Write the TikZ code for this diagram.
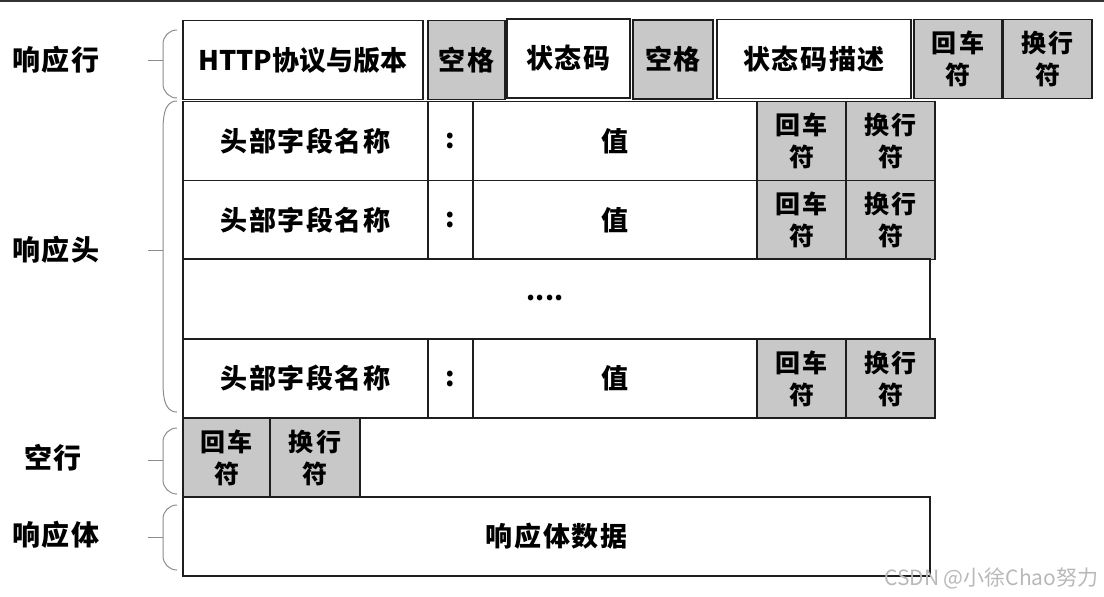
\documentclass[tikz,border=0pt]{standalone}
\usepackage{fontspec}
\setmainfont{Noto Sans CJK SC}
\newfontfamily\cjksp{Noto Sans CJK SC}[LetterSpace=6]
\newfontfamily\cjkcr{Noto Sans CJK SC}[LetterSpace=10]
\newfontfamily\wmfont{Noto Sans CJK SC}
\definecolor{cellgray}{RGB}{200,200,200}
\definecolor{linec}{RGB}{30,30,30}
\definecolor{bracec}{RGB}{140,140,140}
\newcommand\mybrace[4]{%
  \draw[bracepath] (177,#1) to[out=180,in=90] (163,#1+#4) -- (163,#2-#4) to[out=-90,in=180] (177,#2);
  \draw[bracepath] (148,#3) -- (163,#3);}
\begin{document}
\begin{tikzpicture}[x=1pt,y=-1pt,
  box/.style={draw=linec, line width=1.8pt, inner sep=0pt, align=center,
    font=\cjksp\bfseries\fontsize{27}{30}\selectfont},
  wbox/.style={box, fill=white},
  gbox/.style={box, fill=cellgray},
  crbox/.style={gbox, font=\cjkcr\bfseries\fontsize{25}{32}\selectfont},
  lab/.style={font=\cjksp\bfseries\fontsize{28}{30}\selectfont},
  bracepath/.style={draw=bracec, line width=1pt}]
\useasboundingbox (0,0) rectangle (1104,597);
\draw[line width=1.5pt, draw=black!80] (0,0.75) -- (1104,0.75);

% response line
\node[wbox, minimum width=240, minimum height=79, font=\rmfamily\bfseries\fontsize{27}{30}\selectfont] (http) at (303,60) {HTTP协议与版本};
\node[gbox, minimum width=77, minimum height=79] (sp1) at (466.5,60) {空格};
\node[wbox, minimum width=123, minimum height=79] (code) at (568.5,58.5) {状态码};
\node[gbox, minimum width=80, minimum height=79] (sp2) at (673,59.5) {空格};
\node[wbox, minimum width=194, minimum height=79] (desc) at (814,59) {状态码描述};
\node[crbox, minimum width=88, minimum height=79] (cr0) at (958,59) {回车\\符};
\node[crbox, minimum width=89, minimum height=79] (lf0) at (1047.5,59) {换行\\符};

% header rows
\foreach \r/\yc in {1/141, 2/220, 3/378.5}{
  \node[wbox, minimum width=245, minimum height=79] (name\r) at (305.5,\yc) {头部字段名称};
  \node[wbox, minimum width=45, minimum height=79] (colon\r) at (450.5,\yc) {:};
  \node[wbox, minimum width=284, minimum height=79] (val\r) at (615,\yc) {值};
  \node[crbox, minimum width=89, minimum height=79] (cr\r) at (801.5,\yc) {回车\\符};
  \node[crbox, minimum width=89, minimum height=79] (lf\r) at (890.5,\yc) {换行\\符};
}
\node[wbox, minimum width=747, minimum height=80] (dots) at (556.5,299) {};
\node[font=\rmfamily\bfseries\fontsize{26}{30}\selectfont] (dotstext) at (545,298) {....};

% empty line
\node[crbox, minimum width=87, minimum height=79] (crE) at (226.5,457.5) {回车\\符};
\node[crbox, minimum width=90, minimum height=79] (lfE) at (315,457.5) {换行\\符};

% body
\node[wbox, minimum width=747, minimum height=79] (body) at (556.5,536.5) {响应体数据};

% labels
\node[lab] (lline) at (56,60) {响应行};
\node[lab] (lhead) at (56,250) {响应头};
\node[lab] (lempty) at (53,458) {空行};
\node[lab] (lbody) at (56,535) {响应体};

% braces
\mybrace{30}{98}{60}{14}
\mybrace{101}{412}{250}{34}
\mybrace{428}{494}{460}{14}
\mybrace{505}{570}{537}{14}

% watermark
\node[font=\wmfont\fontsize{21}{24}\selectfont, text=black!28, anchor=east] (wm) at (1102,578) {CSDN @小徐Chao努力};
\end{tikzpicture}
\end{document}
